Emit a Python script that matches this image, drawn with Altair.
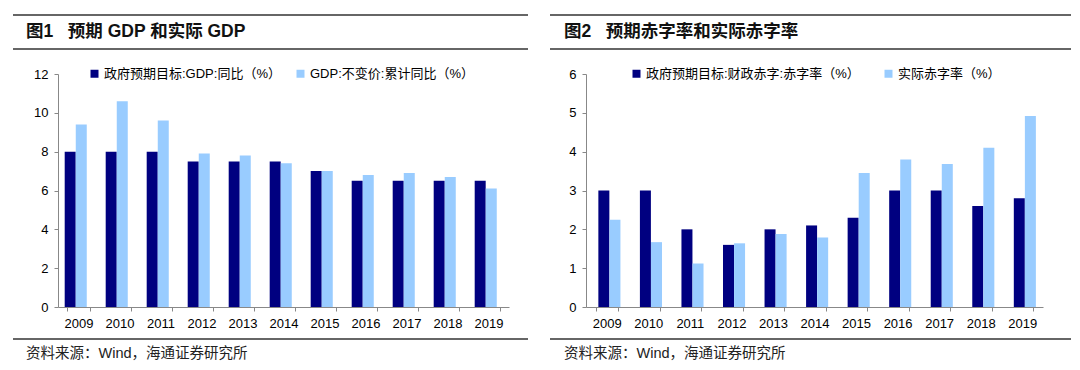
import altair as alt
import pandas as pd

years = ["2009", "2010", "2011", "2012", "2013", "2014", "2015", "2016", "2017", "2018", "2019"]
gdp_target = [8.0, 8.0, 8.0, 7.5, 7.5, 7.5, 7.0, 6.5, 6.5, 6.5, 6.5]
gdp_actual = [9.4, 10.6, 9.6, 7.9, 7.8, 7.4, 7.0, 6.8, 6.9, 6.7, 6.1]
def_target = [3.0, 3.0, 2.0, 1.6, 2.0, 2.1, 2.3, 3.0, 3.0, 2.6, 2.8]
def_actual = [2.25, 1.67, 1.12, 1.64, 1.88, 1.79, 3.45, 3.8, 3.68, 4.1, 4.92]

gdp_names = ["政府预期目标:GDP:同比（%）", "GDP:不变价:累计同比（%）"]
def_names = ["政府预期目标:财政赤字:赤字率（%）", "实际赤字率（%）"]

NB = "\u00a0"
title1 = "图1" + NB * 3 + "预期 GDP 和实际 GDP"
title2 = "图2" + NB * 3 + "预期赤字率和实际赤字率"
source = "资料来源：Wind，海通证券研究所"

DARK = "#000080"
LIGHT = "#99CCFF"
FONT = "Liberation Sans"
MIX = "Liberation Sans, Noto Sans CJK SC"


def long_df(a, b, names):
    rows = []
    for y, v in zip(years, a):
        rows.append({"year": y, "series": names[0], "value": v})
    for y, v in zip(years, b):
        rows.append({"year": y, "series": names[1], "value": v})
    return pd.DataFrame(rows)


one = pd.DataFrame({"k": [0]})


def panel(df, names, ymax, step, width, title, legx, colpad, rule_l, rule_r, text_x):
    H = 233
    bars = alt.Chart(df).mark_bar(width=11).encode(
        x=alt.X("year:N", sort=years, title=None,
                scale=alt.Scale(paddingInner=0.46, paddingOuter=0.23),
                axis=alt.Axis(labelAngle=0, tickBand="extent", labelFont=FONT, labelFontSize=13,
                              labelColor="#000", domainColor="#888", tickColor="#888",
                              tickSize=4, labelPadding=6)),
        xOffset=alt.XOffset("series:N", sort=names,
                            scale=alt.Scale(paddingInner=0, paddingOuter=0)),
        y=alt.Y("value:Q", title=None,
                scale=alt.Scale(domain=[0, ymax], nice=False),
                axis=alt.Axis(values=list(range(0, ymax + 1, step)), grid=False, labelFont=FONT,
                              labelFontSize=13, labelColor="#000", domainColor="#888",
                              tickColor="#888", tickSize=4, labelPadding=6)),
        color=alt.Color("series:N", sort=names,
                        scale=alt.Scale(domain=names, range=[DARK, LIGHT]),
                        legend=alt.Legend(title=None, orient="none", legendX=legx, legendY=-7,
                                          direction="horizontal", symbolType="square",
                                          symbolSize=64, symbolStrokeWidth=0, labelFont=MIX,
                                          labelFontSize=13, labelColor="#000", columnPadding=colpad,
                                          labelOffset=3, labelLimit=400)),
    )
    rule_style = dict(color="#333", strokeWidth=1.5)
    r1 = alt.Chart(one).mark_rule(**rule_style).encode(x=alt.value(rule_l), x2=alt.value(rule_r), y=alt.value(-59))
    r2 = alt.Chart(one).mark_rule(**rule_style).encode(x=alt.value(rule_l), x2=alt.value(rule_r), y=alt.value(-25))
    r3 = alt.Chart(one).mark_rule(**rule_style).encode(x=alt.value(rule_l), x2=alt.value(rule_r), y=alt.value(H + 32))
    t = alt.Chart(one).mark_text(text=title, align="left", baseline="middle", font=MIX,
                                 fontSize=17.5, fontWeight="bold", color="#111").encode(
        x=alt.value(text_x), y=alt.value(-42))
    s = alt.Chart(one).mark_text(text=source, align="left", baseline="middle", font=MIX,
                                 fontSize=14.5, color="#222").encode(
        x=alt.value(text_x), y=alt.value(H + 47))
    return alt.layer(bars, r1, r2, r3, t, s).properties(width=width, height=H).resolve_scale(color="independent")


left = panel(long_df(gdp_target, gdp_actual, gdp_names), gdp_names, 12, 2, 451,
             title1, 30, 13, -45, 470, -32)
right = panel(long_df(def_target, def_actual, def_names), def_names, 6, 1, 457,
              title2, 44, 22, -36, 485, -22)

chart = alt.hconcat(left, right, spacing=77, bounds="flush").resolve_scale(
    color="independent", x="independent", y="independent"
).properties(padding={"left": 4, "top": 6, "right": 0, "bottom": 0}).configure_view(stroke=None)

chart.save("out.html", embed_options={"renderer": "svg", "actions": False})
